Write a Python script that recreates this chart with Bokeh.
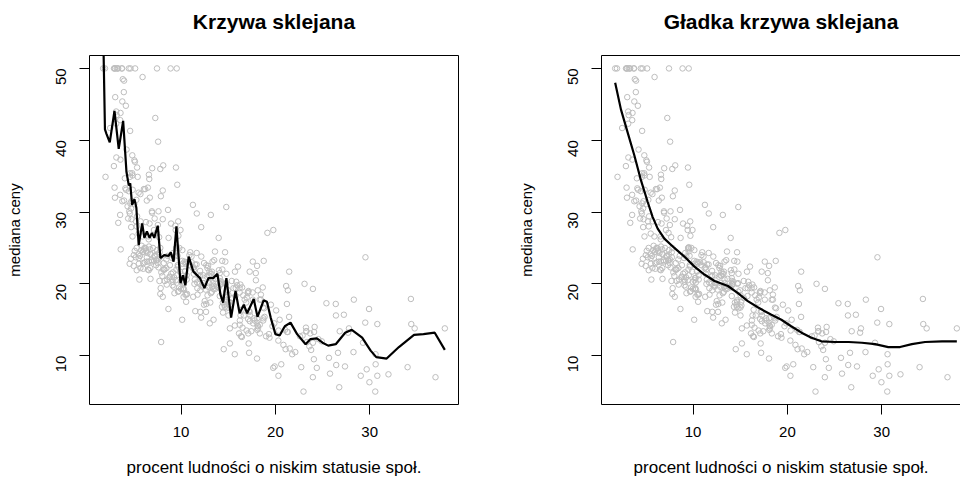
import math
from bokeh.plotting import figure
from bokeh.layouts import row
from bokeh.models import Range1d, LinearAxis, FixedTicker
from bokeh.embed import file_html
from bokeh.resources import INLINE

# Boston housing: lstat (% lower status) and medv (median value)
lstat = [4.98, 9.14, 4.03, 2.94, 5.33, 5.21, 12.43, 19.15, 29.93, 17.10, 20.45, 13.27, 15.71, 8.26, 10.26, 8.47, 6.58, 14.67, 11.69, 11.28, 21.02, 13.83, 18.72, 19.88, 16.30, 16.51, 14.81, 17.28, 12.80, 11.98, 22.60, 13.04, 27.71, 18.35, 20.34, 9.68, 11.41, 8.77, 10.13, 4.32, 1.98, 4.84, 5.81, 7.44, 9.55, 10.21, 14.15, 18.80, 30.81, 16.20, 13.45, 9.43, 5.28, 8.43, 14.80, 4.81, 5.77, 3.95, 6.86, 9.22, 13.15, 14.44, 6.73, 9.50, 8.05, 4.67, 10.24, 8.10, 13.09, 8.79, 6.72, 9.88, 5.52, 7.54, 6.78, 8.94, 11.97, 10.27, 12.34, 9.10, 5.29, 7.22, 6.72, 7.51, 9.62, 6.53, 12.86, 8.44, 5.50, 5.70, 8.81, 8.20, 8.16, 6.21, 10.59, 6.65, 11.34, 4.21, 3.57, 6.19, 9.42, 7.67, 10.63, 13.44, 12.33, 16.47, 18.66, 14.09, 12.27, 15.55, 13.00, 10.16, 16.21, 17.09, 10.45, 15.76, 12.04, 10.30, 15.37, 13.61, 14.37, 14.27, 17.93, 25.41, 17.58, 14.81, 27.26, 17.19, 15.39, 18.34, 12.60, 12.26, 11.12, 15.03, 17.31, 16.96, 16.90, 14.59, 21.32, 18.46, 24.16, 34.41, 26.82, 26.42, 29.29, 27.80, 16.65, 29.53, 28.32, 21.45, 14.10, 13.28, 12.12, 15.79, 15.12, 15.02, 16.14, 4.59, 6.43, 7.39, 5.50, 1.73, 1.92, 3.32, 11.64, 9.81, 3.70, 12.14, 11.10, 11.32, 14.43, 12.03, 14.69, 9.04, 9.64, 5.33, 10.11, 6.29, 6.92, 5.04, 7.56, 9.45, 4.82, 5.68, 13.98, 13.15, 4.45, 6.68, 4.56, 5.39, 5.10, 4.69, 2.87, 5.03, 4.38, 2.97, 4.08, 8.61, 6.62, 4.56, 4.45, 7.43, 3.11, 3.81, 2.88, 10.87, 10.97, 18.06, 14.66, 23.09, 17.27, 23.98, 16.03, 9.38, 29.55, 9.47, 13.51, 9.69, 17.92, 10.50, 9.71, 21.46, 9.93, 7.60, 4.14, 4.63, 3.13, 6.36, 3.92, 3.76, 11.65, 5.25, 2.47, 3.95, 8.05, 10.88, 9.54, 4.73, 6.36, 7.37, 11.38, 12.40, 11.22, 5.19, 12.50, 18.46, 9.16, 10.15, 9.52, 6.56, 5.90, 3.59, 3.53, 3.54, 6.57, 9.25, 3.11, 5.12, 7.79, 6.90, 9.59, 7.26, 5.91, 11.25, 8.10, 10.45, 14.79, 7.44, 3.16, 13.65, 13.00, 6.59, 7.73, 6.58, 3.53, 2.98, 6.05, 4.16, 7.19, 4.85, 3.76, 4.59, 3.01, 3.16, 7.85, 8.23, 12.93, 7.14, 7.60, 9.51, 3.33, 3.56, 4.70, 8.58, 10.40, 6.27, 7.39, 15.84, 4.97, 4.74, 6.07, 9.50, 8.67, 4.86, 6.93, 8.93, 6.47, 7.53, 4.54, 9.97, 12.64, 5.98, 11.72, 7.90, 9.28, 11.50, 18.33, 15.94, 10.36, 12.73, 7.20, 6.87, 7.70, 11.74, 6.12, 5.08, 6.15, 12.79, 9.97, 7.34, 9.09, 12.43, 7.83, 5.68, 6.75, 8.01, 9.80, 10.56, 8.51, 9.74, 9.29, 5.49, 8.65, 7.18, 4.61, 10.53, 12.67, 6.36, 5.99, 5.89, 5.98, 5.49, 7.79, 4.50, 8.05, 5.57, 17.60, 13.27, 11.48, 12.67, 7.79, 14.19, 10.19, 14.64, 5.29, 7.12, 14.00, 13.33, 3.26, 3.73, 2.96, 9.53, 8.88, 34.77, 37.97, 13.44, 23.24, 21.24, 23.69, 21.78, 17.21, 21.08, 23.60, 24.56, 30.63, 30.81, 28.28, 31.99, 30.62, 20.85, 17.11, 18.76, 25.68, 15.17, 16.35, 17.12, 19.37, 19.92, 30.59, 29.97, 26.77, 20.32, 20.31, 19.77, 27.38, 22.98, 23.34, 12.13, 26.40, 19.78, 10.11, 21.22, 34.37, 20.08, 36.98, 29.05, 25.79, 26.64, 20.62, 22.74, 15.02, 15.70, 14.10, 23.29, 17.16, 24.39, 15.69, 14.52, 21.52, 24.08, 17.64, 19.69, 12.03, 16.22, 15.17, 23.27, 18.05, 26.45, 34.02, 22.88, 22.11, 19.52, 16.59, 18.85, 23.79, 23.98, 17.79, 16.44, 18.13, 19.31, 17.44, 17.73, 17.27, 16.74, 18.71, 18.13, 19.01, 16.94, 16.23, 14.70, 16.42, 14.65, 13.99, 10.29, 13.22, 14.13, 17.15, 21.32, 18.13, 14.76, 16.29, 12.87, 14.36, 11.66, 18.14, 24.10, 18.68, 24.91, 18.03, 13.11, 10.74, 7.74, 7.01, 10.42, 13.34, 10.58, 14.98, 11.45, 18.06, 23.97, 29.68, 18.07, 13.35, 12.01, 13.59, 17.60, 21.14, 14.10, 12.92, 15.10, 14.33, 9.67, 9.08, 5.64, 6.48, 7.88]

medv = [24.0, 21.6, 34.7, 33.4, 36.2, 28.7, 22.9, 27.1, 16.5, 18.9, 15.0, 18.9, 21.7, 20.4, 18.2, 19.9, 23.1, 17.5, 20.2, 18.2, 13.6, 19.6, 15.2, 14.5, 15.6, 13.9, 16.6, 14.8, 18.4, 21.0, 12.7, 14.5, 13.2, 13.1, 13.5, 18.9, 20.0, 21.0, 24.7, 30.8, 34.9, 26.6, 25.3, 24.7, 21.2, 19.3, 20.0, 16.6, 14.4, 19.4, 19.7, 20.5, 25.0, 23.4, 18.9, 35.4, 24.7, 31.6, 23.3, 19.6, 18.7, 16.0, 22.2, 25.0, 33.0, 23.5, 19.4, 22.0, 17.4, 20.9, 24.2, 21.7, 22.8, 23.4, 24.1, 21.4, 20.0, 20.8, 21.2, 20.3, 28.0, 23.9, 24.8, 22.9, 23.9, 26.6, 22.5, 22.2, 23.6, 28.7, 22.6, 22.0, 22.9, 25.0, 20.6, 28.4, 21.4, 38.7, 43.8, 33.2, 27.5, 26.5, 18.6, 19.3, 20.1, 19.5, 19.5, 20.4, 19.8, 19.4, 21.7, 22.8, 18.8, 18.7, 18.5, 18.3, 21.2, 19.2, 20.4, 19.3, 22.0, 20.3, 20.5, 17.3, 18.8, 21.4, 15.7, 16.2, 18.0, 14.3, 19.2, 19.6, 23.0, 18.4, 15.6, 18.1, 17.4, 17.1, 13.3, 17.8, 14.0, 14.4, 13.4, 15.6, 11.8, 13.8, 15.6, 14.6, 17.8, 15.4, 21.5, 19.6, 15.3, 19.4, 17.0, 15.6, 13.1, 41.3, 24.3, 23.3, 27.0, 50.0, 50.0, 50.0, 22.7, 25.0, 50.0, 23.8, 23.8, 22.3, 17.4, 19.1, 23.1, 23.6, 22.6, 29.4, 23.2, 24.6, 29.9, 37.2, 39.8, 36.2, 37.9, 32.5, 26.4, 29.6, 50.0, 32.0, 29.8, 34.9, 37.0, 30.5, 36.4, 31.1, 29.1, 50.0, 33.3, 30.3, 34.6, 34.9, 32.9, 24.1, 42.3, 48.5, 50.0, 22.6, 24.4, 22.5, 24.4, 20.0, 21.7, 19.3, 22.4, 28.1, 23.7, 25.0, 23.3, 28.7, 21.5, 23.0, 26.7, 21.7, 27.5, 30.1, 44.8, 50.0, 37.6, 31.6, 46.7, 31.5, 24.3, 31.7, 41.7, 48.3, 29.0, 24.0, 25.1, 31.5, 23.7, 23.3, 22.0, 20.1, 22.2, 23.7, 17.6, 18.5, 24.3, 20.5, 24.5, 26.2, 24.4, 24.8, 29.6, 42.8, 21.9, 20.9, 44.0, 50.0, 36.0, 30.1, 33.8, 43.1, 48.8, 31.0, 36.5, 22.8, 30.7, 50.0, 43.5, 20.7, 21.1, 25.2, 24.4, 35.2, 32.4, 32.0, 33.2, 33.1, 29.1, 35.1, 45.4, 35.4, 46.0, 50.0, 32.2, 22.0, 20.1, 23.2, 22.3, 24.8, 28.5, 37.3, 27.9, 23.9, 21.7, 28.6, 27.1, 20.3, 22.5, 29.0, 24.8, 22.0, 26.4, 33.1, 36.1, 28.4, 33.4, 28.2, 22.8, 20.3, 16.1, 22.1, 19.4, 21.6, 23.8, 16.2, 17.8, 19.8, 23.1, 21.0, 23.8, 23.1, 20.4, 18.5, 25.0, 24.6, 23.0, 22.2, 19.3, 22.6, 19.8, 17.1, 19.4, 22.2, 20.7, 21.1, 19.5, 18.5, 20.6, 19.0, 18.7, 32.7, 16.5, 23.9, 31.2, 17.5, 17.2, 23.1, 24.5, 26.6, 22.9, 24.1, 18.6, 30.1, 18.2, 20.6, 17.8, 21.7, 22.7, 22.6, 25.0, 19.9, 20.8, 16.8, 21.9, 27.5, 21.9, 23.1, 50.0, 50.0, 50.0, 50.0, 50.0, 13.8, 13.8, 15.0, 13.9, 13.3, 13.1, 10.2, 10.4, 10.9, 11.3, 12.3, 8.8, 7.2, 10.5, 7.4, 10.2, 11.5, 15.1, 23.2, 9.7, 13.8, 12.7, 13.1, 12.5, 8.5, 5.0, 6.3, 5.6, 7.2, 12.1, 8.3, 8.5, 5.0, 11.9, 27.9, 17.2, 27.5, 15.0, 17.2, 17.9, 16.3, 7.0, 7.2, 7.5, 10.4, 8.8, 8.4, 16.7, 14.2, 20.8, 13.4, 11.7, 8.3, 10.2, 10.9, 11.0, 9.5, 14.5, 14.1, 16.1, 14.3, 11.7, 13.4, 9.6, 8.7, 8.4, 12.8, 10.5, 17.1, 18.4, 15.4, 10.8, 11.8, 14.9, 12.6, 14.1, 13.0, 13.4, 15.2, 16.1, 17.8, 14.9, 14.1, 12.7, 13.5, 14.9, 20.0, 16.4, 17.7, 19.5, 20.2, 21.4, 19.9, 19.0, 19.1, 19.1, 20.1, 19.9, 19.6, 23.2, 29.8, 13.8, 13.3, 16.7, 12.0, 14.6, 21.4, 23.0, 23.7, 25.0, 21.8, 20.6, 21.2, 19.1, 20.6, 15.2, 7.0, 8.1, 13.6, 20.1, 21.8, 24.5, 23.1, 19.7, 18.3, 21.2, 17.5, 16.8, 22.4, 20.6, 23.9, 22.0, 11.9]

# interpolating-like spline (left panel)
spline_x = [1.73, 1.92, 2.08, 2.43, 2.93, 3.38, 3.85, 4.2, 4.45, 4.6, 4.8, 5.05, 5.25, 5.5, 5.87, 6.1, 6.37, 6.65, 6.9, 7.15, 7.52, 7.8, 8.2, 8.67, 8.9, 9.2, 9.5, 9.93, 10.2, 10.45, 10.8, 11.3, 12.0, 12.47, 12.9, 13.4, 13.85, 14.17, 14.45, 14.8, 15.3, 15.77, 16.2, 16.65, 17.0, 17.7, 18.1, 18.75, 19.1, 19.5, 20.0, 20.45, 21.0, 21.6, 22.3, 23.2, 23.7, 24.4, 25.0, 25.6, 26.4, 27.4, 28.1, 29.2, 30.1, 30.7, 31.8, 33.1, 34.7, 35.7, 36.9, 37.97]
spline_y = [55.5, 41.5, 40.9, 39.7, 44.1, 38.8, 42.7, 35.6, 33.7, 34.0, 31.0, 31.8, 30.6, 25.4, 28.4, 26.4, 27.3, 26.4, 27.1, 26.4, 28.1, 23.6, 24.0, 23.9, 24.4, 23.1, 28.0, 20.1, 21.2, 19.8, 23.8, 21.7, 20.8, 19.4, 20.8, 20.8, 21.4, 18.5, 17.4, 20.8, 15.3, 19.0, 15.9, 17.1, 15.9, 17.9, 15.4, 17.7, 17.5, 15.3, 13.0, 12.8, 14.1, 14.6, 13.0, 11.6, 12.3, 12.4, 11.8, 11.4, 11.6, 13.2, 13.6, 12.5, 10.7, 9.8, 9.6, 11.2, 12.9, 13.0, 13.2, 10.8]

# smooth spline (right panel)
smooth_x = [1.73, 2.34, 3.05, 3.76, 4.47, 5.18, 5.71, 6.24, 6.95, 8.01, 9.07, 10.14, 11.2, 12.27, 13.69, 14.75, 15.8, 16.9, 18.3, 19.36, 20.4, 21.5, 22.55, 23.6, 25.0, 26.5, 27.9, 29.3, 30.7, 31.95, 33.2, 34.6, 36.4, 37.97]
smooth_y = [48.0, 44.3, 41.1, 37.9, 34.4, 31.4, 29.3, 27.7, 26.3, 25.0, 23.8, 22.4, 21.3, 20.4, 19.7, 18.7, 17.6, 16.7, 15.7, 15.0, 14.1, 13.2, 12.5, 12.0, 11.9, 11.9, 11.8, 11.6, 11.2, 11.2, 11.6, 11.9, 12.0, 12.0]

x_ticks = [10, 20, 30]
y_ticks = [10, 20, 30, 40, 50]
titles = ["Krzywa sklejana", "Gładka krzywa sklejana"]
x_label = "procent ludności o niskim statusie społ."
y_label = "mediana ceny"

n = min(len(lstat), len(medv))
lstat = lstat[:n]
medv = medv[:n]

FONT = "Liberation Sans"
xr = max(lstat) - min(lstat)
x0 = min(lstat) - 0.04 * xr
x1 = max(lstat) + 0.04 * xr
yr = max(medv) - min(medv)
y0 = min(medv) - 0.04 * yr
y1 = max(medv) + 0.04 * yr

FRAME_W = 369
FRAME_H = 352
TOP = 55
BOTTOM = 72
X_PER_PX = (x1 - x0) / FRAME_W


def make_panel(title, cx, cy, border_left, frame_w, border_right, right_side):
    x_end = x0 + X_PER_PX * frame_w
    p = figure(width=border_left + frame_w + border_right,
               height=TOP + FRAME_H + BOTTOM,
               x_range=Range1d(x0, x_end), y_range=Range1d(y0, y1),
               output_backend="svg", toolbar_location=None,
               min_border_left=border_left, min_border_right=border_right,
               min_border_top=TOP, min_border_bottom=BOTTOM)
    p.outline_line_color = None
    p.grid.visible = False
    p.background_fill_color = "white"
    p.border_fill_color = "white"

    for ax in (p.xaxis[0], p.yaxis[0]):
        ax.major_tick_out = 10
        ax.major_tick_in = 0
        ax.minor_tick_line_color = None
        ax.axis_line_color = "black"
        ax.major_tick_line_color = "black"
        ax.major_label_text_font = FONT
        ax.major_label_text_font_size = "15px"
        ax.major_label_text_color = "black"
        ax.axis_label_text_font = FONT
        ax.axis_label_text_font_style = "normal"
        ax.axis_label_text_color = "black"
    p.xaxis.ticker = FixedTicker(ticks=x_ticks)
    p.yaxis.ticker = FixedTicker(ticks=y_ticks)
    p.yaxis.major_label_orientation = math.pi / 2
    p.xaxis.major_label_standoff = 12
    p.yaxis.major_label_standoff = 18
    p.xaxis.axis_label = x_label
    p.xaxis.axis_label_text_font_size = "17px"
    p.xaxis.axis_label_standoff = 18
    p.yaxis.axis_label = y_label
    p.yaxis.axis_label_text_font_size = "15px"
    p.yaxis.axis_label_standoff = 26

    # top border of the box; its label carries the panel title
    top_axis = LinearAxis(axis_line_color="black", major_tick_line_color=None,
                          minor_tick_line_color=None, major_label_text_font_size="0px",
                          major_label_standoff=0, major_tick_out=0, major_tick_in=0,
                          ticker=FixedTicker(ticks=[]),
                          axis_label=title, axis_label_text_font=FONT,
                          axis_label_text_font_size="21px",
                          axis_label_text_font_style="bold",
                          axis_label_text_color="black",
                          axis_label_standoff=23)
    p.add_layout(top_axis, "above")
    if right_side:
        p.add_layout(LinearAxis(axis_line_color="black", major_tick_line_color=None,
                                minor_tick_line_color=None, major_label_text_font_size="0px",
                                major_label_standoff=0, major_tick_out=0, major_tick_in=0,
                                ticker=FixedTicker(ticks=[])), "right")

    p.scatter(lstat, medv, marker="circle", size=5.5, fill_color=None,
              line_color="#bebebe", line_width=1)
    p.line(cx, cy, line_color="black", line_width=2.2)
    return p


left = make_panel(titles[0], spline_x, spline_y, 89, FRAME_W, 22, True)
right = make_panel(titles[1], smooth_x, smooth_y, 121, 359, 0, False)

layout = row(left, right)
open("out.html", "w").write(file_html(layout, INLINE))
